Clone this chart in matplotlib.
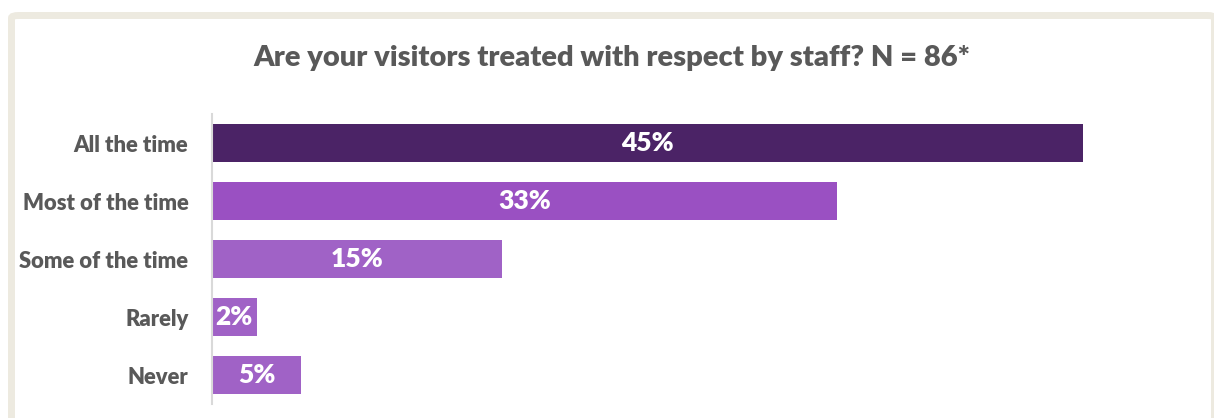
import matplotlib
matplotlib.use("Agg")
import matplotlib.pyplot as plt
from matplotlib.patches import FancyBboxPatch

# Survey responses, N = 86
categories = ["All the time", "Most of the time", "Some of the time", "Rarely", "Never"]
counts = [39, 28, 13, 2, 4]
total = 86
values = [c / total * 100 for c in counts]
colors = ["#4B2366", "#9A50C2", "#A062C6", "#A062C6", "#A062C6"]

title = "Are your visitors treated with respect by staff? N = 86*"

plt.rcParams["font.family"] = ["Lato", "DejaVu Sans"]

W, H = 1214, 418
fig = plt.figure(figsize=(W / 100, H / 100), dpi=100)

# beige frame around the panel
frame = FancyBboxPatch((11.5 / W, 1 - 430 / H), (1214.5 - 11.5) / W, (430 - 15.5) / H,
                       boxstyle="round,pad=0,rounding_size=0.006",
                       transform=fig.transFigure, facecolor="white",
                       edgecolor="#EDEAE0", linewidth=5.0, zorder=-5)
fig.patches.append(frame)

left, right = 212, 1172
top, bottom = 114, 404
ax = fig.add_axes([left / W, 1 - bottom / H, (right - left) / W, (bottom - top) / H])
ax.set_zorder(2)
ax.set_facecolor("none")

ypos = list(range(len(categories)))
bars = ax.barh(ypos, values, height=0.655, color=colors, zorder=2)
ax.set_xlim(0, 50)
ax.set_ylim(len(categories) - 0.5, -0.5)

for b, v in zip(bars, values):
    ax.text(b.get_width() / 2, b.get_y() + b.get_height() / 2, f"{v:.0f}%",
            ha="center", va="center", color="white", fontsize=19,
            fontweight="heavy", zorder=3)

ax.set_yticks(ypos)
ax.set_yticklabels(categories, fontsize=15.8, fontweight="heavy", color="#595959")
ax.tick_params(axis="y", length=0, pad=17)
ax.set_xticks([])
for s in ["top", "right", "bottom"]:
    ax.spines[s].set_visible(False)
ax.spines["left"].set_color("#D9D9D9")
ax.spines["left"].set_linewidth(1.5)

fig.text(612 / W, 1 - 58 / H, title, ha="center", va="center",
         fontsize=21, fontweight="heavy", color="#595959", zorder=3)

fig.savefig("out.png", dpi=100)
